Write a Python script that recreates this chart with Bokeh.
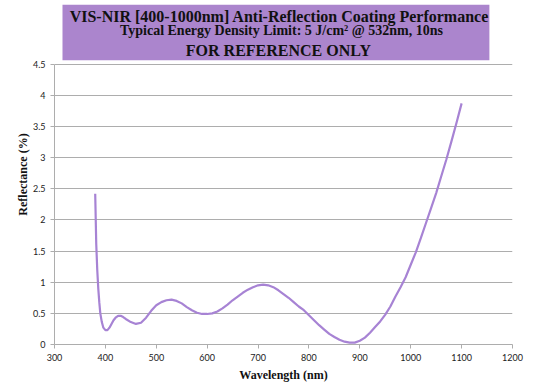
from bokeh.plotting import figure
from bokeh.models import Range1d, FixedTicker
from bokeh.core.properties import value
from bokeh.embed import file_html
from bokeh.resources import INLINE

# ---- data ----
wavelength = [380, 382, 384, 386, 388, 390, 393, 396, 400, 404, 408, 412, 416, 420, 425, 430,
              435, 440, 450, 460, 470, 480, 490, 500, 510, 520, 530, 540, 550, 560, 570,
              580, 590, 600, 610, 620, 630, 640, 650, 660, 670, 680, 690, 700, 710, 720,
              730, 740, 750, 760, 770, 780, 790, 800, 810, 820, 830, 840, 850, 860, 870,
              880, 890, 900, 910, 920, 930, 940, 950, 960, 970, 980, 990, 1000, 1010,
              1020, 1030, 1040, 1050, 1060, 1070, 1080, 1090, 1100]
reflectance = [2.42, 1.62, 1.20, 0.90, 0.68, 0.50, 0.36, 0.27, 0.23, 0.23, 0.27, 0.33, 0.39,
               0.43, 0.46, 0.46, 0.44, 0.41, 0.36, 0.33, 0.35, 0.43, 0.54, 0.63, 0.68, 0.71,
               0.72, 0.70, 0.66, 0.60, 0.55, 0.51, 0.49, 0.49, 0.50, 0.53, 0.58, 0.64, 0.71,
               0.77, 0.83, 0.88, 0.92, 0.95, 0.96, 0.95, 0.92, 0.87, 0.81, 0.75, 0.68, 0.61,
               0.55, 0.47, 0.39, 0.31, 0.24, 0.17, 0.12, 0.075, 0.045, 0.03, 0.03, 0.06, 0.11,
               0.19, 0.28, 0.37, 0.48, 0.61, 0.77, 0.92, 1.08, 1.28, 1.48, 1.71, 1.95, 2.19,
               2.43, 2.70, 2.97, 3.26, 3.56, 3.87]

x_ticks = [300, 400, 500, 600, 700, 800, 900, 1000, 1100, 1200]
y_ticks = [0, 0.5, 1, 1.5, 2, 2.5, 3, 3.5, 4, 4.5]
y_tick_labels = ["0", "0.5", "1", "1.5", "2", "2.5", "3", "3.5", "4", "4.5"]

title_lines = ["VIS-NIR [400-1000nm] Anti-Reflection Coating Performance",
               "Typical Energy Density Limit: 5 J/cm\u00b2 @ 532nm, 10ns",
               "FOR REFERENCE ONLY"]
x_label = "Wavelength (nm)"
y_label = "Reflectance (%)"

PURPLE = "#AB85CD"
LINE = "#A783D4"
GRID = "#ADADAD"

# frame: x 54..512 px, y 4..346 px ; 4.5 at 64px -> 62.67 px per unit
PX = 62.67
Y_TOP = 4.5 + 60 / PX

p = figure(width=538, height=384, output_backend="svg", toolbar_location=None,
           x_range=Range1d(300, 1200), y_range=Range1d(0, Y_TOP),
           min_border_left=54, min_border_right=26, min_border_top=4, min_border_bottom=38,
           outline_line_color=None)

# header box and texts (inside the top of the frame, above the 4.5 line)
box_bottom = 4.5 + (64 - 60) / PX
p.quad(left=[315.7], right=[1154.6], bottom=[box_bottom], top=[Y_TOP],
       fill_color=PURPLE, line_color=None)
for txt, cx, base_px, size in zip(title_lines, [742, 746, 740], [16.5, 30.5, 50.5],
                                  ["16px", "14px", "16px"]):
    p.text(x=[cx], y=[(346 - base_px) / PX], text=[txt], text_align="center",
           text_baseline="alphabetic", text_font=value("Liberation Serif"),
           text_font_style="bold", text_font_size=size, text_color="#111111")

p.line(wavelength, reflectance, line_color=LINE, line_width=2.2)

p.xaxis.ticker = FixedTicker(ticks=x_ticks)
p.yaxis.ticker = FixedTicker(ticks=y_ticks)
p.yaxis.major_label_overrides = {t: l for t, l in zip(y_ticks, y_tick_labels)}
p.yaxis.bounds = (0, 4.5)

p.xgrid.visible = False
p.ygrid.grid_line_color = GRID
p.ygrid.grid_line_width = 1
p.ygrid.ticker = FixedTicker(ticks=y_ticks[1:])

for ax in (p.xaxis, p.yaxis):
    ax.axis_line_color = GRID
    ax.major_tick_line_color = GRID
    ax.major_tick_in = 0
    ax.major_tick_out = 4
    ax.minor_tick_line_color = None
    ax.major_label_text_font = "Lato"
    ax.major_label_text_font_size = "9px"
    ax.major_label_text_color = "#222222"
    ax.axis_label_text_font = "Liberation Serif"
    ax.axis_label_text_font_style = "bold"
    ax.axis_label_text_font_size = "12px"
    ax.axis_label_text_color = "#111111"

p.xaxis.axis_label = x_label
p.yaxis.axis_label = y_label
p.xaxis.major_label_standoff = 5
p.xaxis.axis_label_standoff = 4
p.yaxis.major_label_standoff = 5
p.yaxis.axis_label_standoff = 0

open("out.html", "w").write(file_html(p, INLINE))
